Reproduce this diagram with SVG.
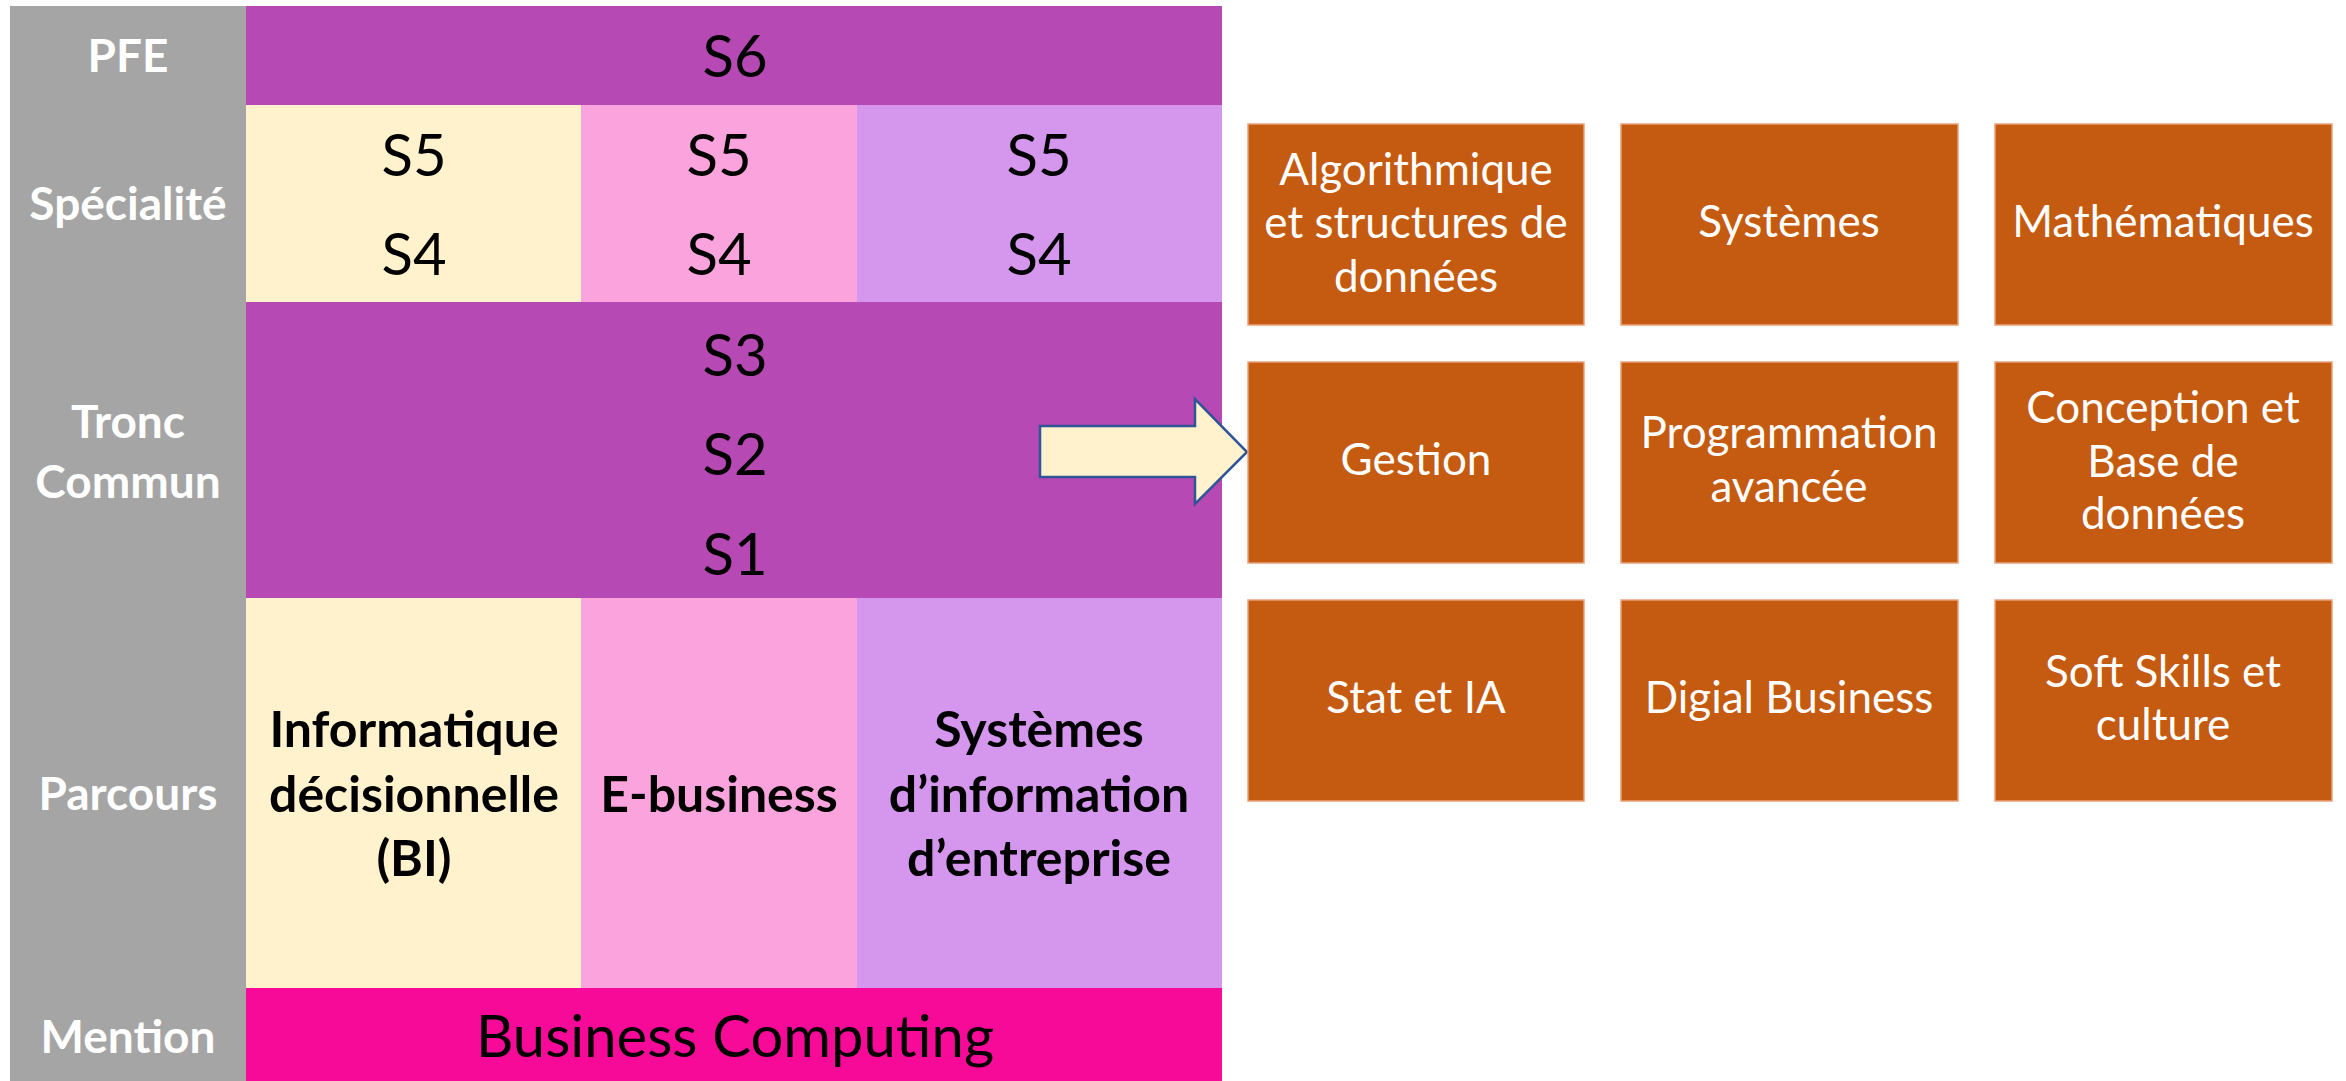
<svg xmlns="http://www.w3.org/2000/svg" width="2346" height="1081" viewBox="0 0 2346 1081">
<style>
.lbl{font-family:Lato,"Liberation Sans",sans-serif;font-weight:bold;font-size:46px;fill:#ffffff;text-anchor:middle}
.sem{font-family:Lato,"Liberation Sans",sans-serif;font-size:58px;fill:#000000;text-anchor:middle}
.par{font-family:Lato,"Liberation Sans",sans-serif;font-weight:bold;font-size:50px;fill:#000000;text-anchor:middle}
.men{font-family:Lato,"Liberation Sans",sans-serif;font-size:58px;fill:#000000;text-anchor:middle}
.box{fill:#C55A11;stroke:#E9A27A;stroke-width:1.5}
.bt{font-family:Lato,"Liberation Sans",sans-serif;font-size:44px;fill:#ffffff;text-anchor:middle}
</style>
<rect width="2346" height="1081" fill="#ffffff"/>
<g id="labels">
<rect x="10" y="6" width="236" height="1075" fill="#A5A5A5"/>
<text class="lbl" x="128" y="72">PFE</text>
<text class="lbl" x="128" y="220">Spécialité</text>
<text class="lbl" x="128" y="438">Tronc</text>
<text class="lbl" x="128" y="498">Commun</text>
<text class="lbl" x="128" y="810">Parcours</text>
<text class="lbl" x="128" y="1053">Mention</text>
</g>
<g id="pfe">
<rect x="246" y="6" width="976" height="99" fill="#B749B5"/>
<text class="sem" x="735" y="77">S6</text>
</g>
<g id="spec-bi">
<rect x="246" y="105" width="335" height="197" fill="#FFF2CC"/>
<text class="sem" x="414" y="176">S5</text>
<text class="sem" x="414" y="275">S4</text>
</g>
<g id="spec-eb">
<rect x="581" y="105" width="276" height="197" fill="#FBA3DD"/>
<text class="sem" x="719" y="176">S5</text>
<text class="sem" x="719" y="275">S4</text>
</g>
<g id="spec-si">
<rect x="857" y="105" width="365" height="197" fill="#D596EE"/>
<text class="sem" x="1039" y="176">S5</text>
<text class="sem" x="1039" y="275">S4</text>
</g>
<g id="tronc">
<rect x="246" y="302" width="976" height="296" fill="#B749B5"/>
<text class="sem" x="735" y="376">S3</text>
<text class="sem" x="735" y="475">S2</text>
<text class="sem" x="735" y="575">S1</text>
</g>
<g id="par-bi">
<rect x="246" y="598" width="335" height="390" fill="#FFF2CC"/>
<text class="par" x="414" y="747">Informatique</text>
<text class="par" x="414" y="812">décisionnelle</text>
<text class="par" x="414" y="876">(BI)</text>
</g>
<g id="par-eb">
<rect x="581" y="598" width="276" height="390" fill="#FBA3DD"/>
<text class="par" x="719" y="812">E-business</text>
</g>
<g id="par-si">
<rect x="857" y="598" width="365" height="390" fill="#D596EE"/>
<text class="par" x="1039" y="747">Systèmes</text>
<text class="par" x="1039" y="812">d’information</text>
<text class="par" x="1039" y="876">d’entreprise</text>
</g>
<g id="mention">
<rect x="246" y="988" width="976" height="93" fill="#F70A97"/>
<text class="men" x="735" y="1057">Business Computing</text>
</g>
<g id="connectors">
<polygon points="1040,426 1195,426 1195,399 1247,452 1195,504 1195,477 1040,477" fill="#FFF2CC" stroke="#2F5597" stroke-width="2.5" stroke-linejoin="miter"/>
</g>
<g id="m-algo">
<rect class="box" x="1248" y="124" width="336" height="201"/>
<text class="bt" x="1416" y="185">Algorithmique</text>
<text class="bt" x="1416" y="238">et structures de</text>
<text class="bt" x="1416" y="292">données</text>
</g>
<g id="m-sys">
<rect class="box" x="1621" y="124" width="337" height="201"/>
<text class="bt" x="1789" y="237">Systèmes</text>
</g>
<g id="m-math">
<rect class="box" x="1995" y="124" width="337" height="201"/>
<text class="bt" x="2163" y="237">Mathématiques</text>
</g>
<g id="m-gestion">
<rect class="box" x="1248" y="362" width="336" height="201"/>
<text class="bt" x="1416" y="475">Gestion</text>
</g>
<g id="m-prog">
<rect class="box" x="1621" y="362" width="337" height="201"/>
<text class="bt" x="1789" y="448">Programmation</text>
<text class="bt" x="1789" y="502">avancée</text>
</g>
<g id="m-bdd">
<rect class="box" x="1995" y="362" width="337" height="201"/>
<text class="bt" x="2163" y="423">Conception et</text>
<text class="bt" x="2163" y="477">Base de</text>
<text class="bt" x="2163" y="529">données</text>
</g>
<g id="m-stat">
<rect class="box" x="1248" y="600" width="336" height="201"/>
<text class="bt" x="1416" y="713">Stat et IA</text>
</g>
<g id="m-digital">
<rect class="box" x="1621" y="600" width="337" height="201"/>
<text class="bt" x="1789" y="713">Digial Business</text>
</g>
<g id="m-soft">
<rect class="box" x="1995" y="600" width="337" height="201"/>
<text class="bt" x="2163" y="687">Soft Skills et</text>
<text class="bt" x="2163" y="740">culture</text>
</g>
</svg>
